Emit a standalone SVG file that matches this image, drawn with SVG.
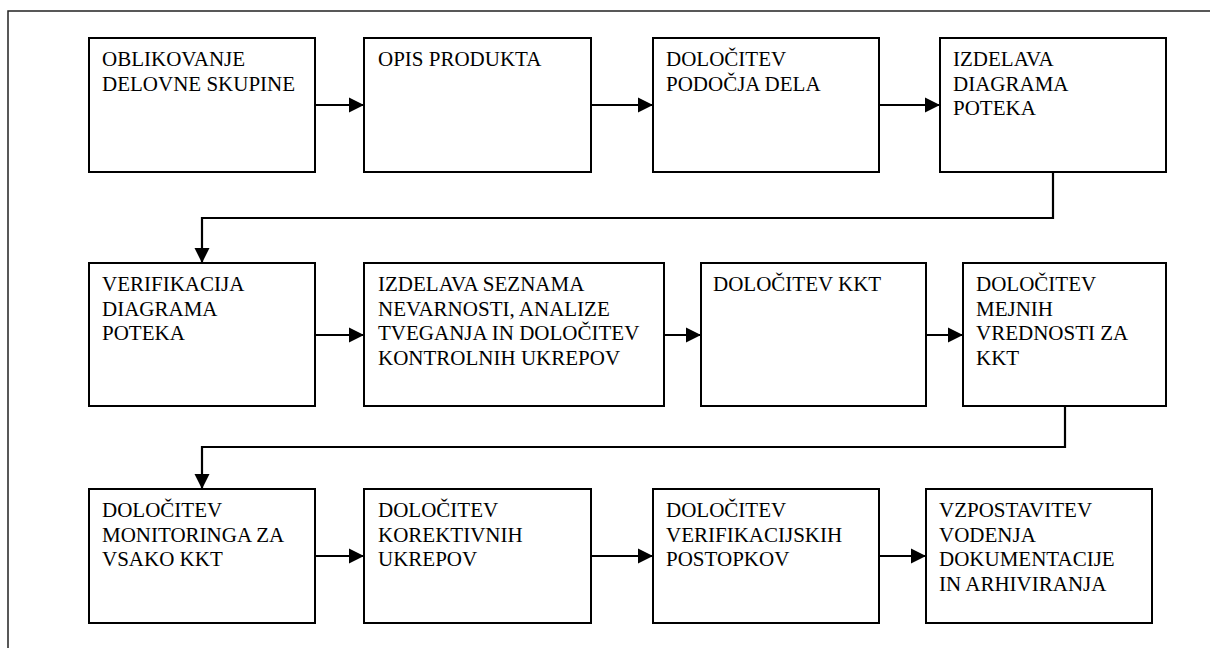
<svg xmlns="http://www.w3.org/2000/svg" width="1210" height="648" viewBox="0 0 1210 648">
<style>
.t{font-family:"Liberation Serif","Times New Roman",serif;font-size:28px;fill:#000}
</style>
<defs>
<marker id="ah" markerWidth="16" markerHeight="16" refX="15" refY="8" orient="auto" markerUnits="userSpaceOnUse">
<path d="M0,0.5 L15,8 L0,15.5 Z" fill="#000"/>
</marker>
</defs>
<rect width="1210" height="648" fill="#fff"/>
<path fill="none" stroke="#222" stroke-width="1.5" d="M8,648 V11 H1210"/>
<g fill="#fff" stroke="#000" stroke-width="2">
<rect x="89" y="38" width="226" height="134"/>
<rect x="364" y="38" width="227" height="134"/>
<rect x="653" y="38" width="226" height="134"/>
<rect x="940" y="38" width="226" height="134"/>
<rect x="89" y="263" width="226" height="143"/>
<rect x="364" y="263" width="300" height="143"/>
<rect x="701" y="263" width="225" height="143"/>
<rect x="963" y="263" width="203" height="143"/>
<rect x="89" y="489" width="226" height="134"/>
<rect x="364" y="489" width="227" height="134"/>
<rect x="653" y="489" width="226" height="134"/>
<rect x="926" y="489" width="226" height="134"/>
</g>
<g id="n1"><text class="t" transform="translate(102,66) scale(0.75)"><tspan x="0" y="0">OBLIKOVANJE</tspan><tspan x="0" y="32.67">DELOVNE SKUPINE</tspan></text></g>
<g id="n2"><text class="t" transform="translate(378,66) scale(0.75)"><tspan x="0" y="0">OPIS PRODUKTA</tspan></text></g>
<g id="n3"><text class="t" transform="translate(666,66) scale(0.75)"><tspan x="0" y="0">DOLOČITEV</tspan><tspan x="0" y="32.67">PODOČJA DELA</tspan></text></g>
<g id="n4"><text class="t" transform="translate(953,66) scale(0.75)"><tspan x="0" y="0">IZDELAVA</tspan><tspan x="0" y="32.67">DIAGRAMA</tspan><tspan x="0" y="65.33">POTEKA</tspan></text></g>
<g id="n5"><text class="t" transform="translate(102,291) scale(0.75)"><tspan x="0" y="0">VERIFIKACIJA</tspan><tspan x="0" y="32.67">DIAGRAMA</tspan><tspan x="0" y="65.33">POTEKA</tspan></text></g>
<g id="n6"><text class="t" transform="translate(378,291) scale(0.75)"><tspan x="0" y="0">IZDELAVA SEZNAMA</tspan><tspan x="0" y="32.67">NEVARNOSTI, ANALIZE</tspan><tspan x="0" y="65.33">TVEGANJA IN DOLOČITEV</tspan><tspan x="0" y="98">KONTROLNIH UKREPOV</tspan></text></g>
<g id="n7"><text class="t" transform="translate(713,291) scale(0.75)"><tspan x="0" y="0">DOLOČITEV KKT</tspan></text></g>
<g id="n8"><text class="t" transform="translate(976,291) scale(0.75)"><tspan x="0" y="0">DOLOČITEV</tspan><tspan x="0" y="32.67">MEJNIH</tspan><tspan x="0" y="65.33">VREDNOSTI ZA</tspan><tspan x="0" y="98">KKT</tspan></text></g>
<g id="n9"><text class="t" transform="translate(102,517) scale(0.75)"><tspan x="0" y="0">DOLOČITEV</tspan><tspan x="0" y="32.67">MONITORINGA ZA</tspan><tspan x="0" y="65.33">VSAKO KKT</tspan></text></g>
<g id="n10"><text class="t" transform="translate(378,517) scale(0.75)"><tspan x="0" y="0">DOLOČITEV</tspan><tspan x="0" y="32.67">KOREKTIVNIH</tspan><tspan x="0" y="65.33">UKREPOV</tspan></text></g>
<g id="n11"><text class="t" transform="translate(666,517) scale(0.75)"><tspan x="0" y="0">DOLOČITEV</tspan><tspan x="0" y="32.67">VERIFIKACIJSKIH</tspan><tspan x="0" y="65.33">POSTOPKOV</tspan></text></g>
<g id="n12"><text class="t" transform="translate(939,517) scale(0.75)"><tspan x="0" y="0">VZPOSTAVITEV</tspan><tspan x="0" y="32.67">VODENJA</tspan><tspan x="0" y="65.33">DOKUMENTACIJE</tspan><tspan x="0" y="98">IN ARHIVIRANJA</tspan></text></g>
<g id="connectors" fill="none" stroke="#000" stroke-width="2.2">
<path d="M315,105 H364" marker-end="url(#ah)"/>
<path d="M591,105 H653" marker-end="url(#ah)"/>
<path d="M879,105 H940" marker-end="url(#ah)"/>
<path d="M1053,172 V218 H202 V263" marker-end="url(#ah)"/>
<path d="M315,335 H364" marker-end="url(#ah)"/>
<path d="M664,335 H701" marker-end="url(#ah)"/>
<path d="M926,335 H963" marker-end="url(#ah)"/>
<path d="M1065,406 V447 H202 V489" marker-end="url(#ah)"/>
<path d="M315,556 H364" marker-end="url(#ah)"/>
<path d="M591,556 H653" marker-end="url(#ah)"/>
<path d="M879,556 H926" marker-end="url(#ah)"/>
</g>
</svg>
